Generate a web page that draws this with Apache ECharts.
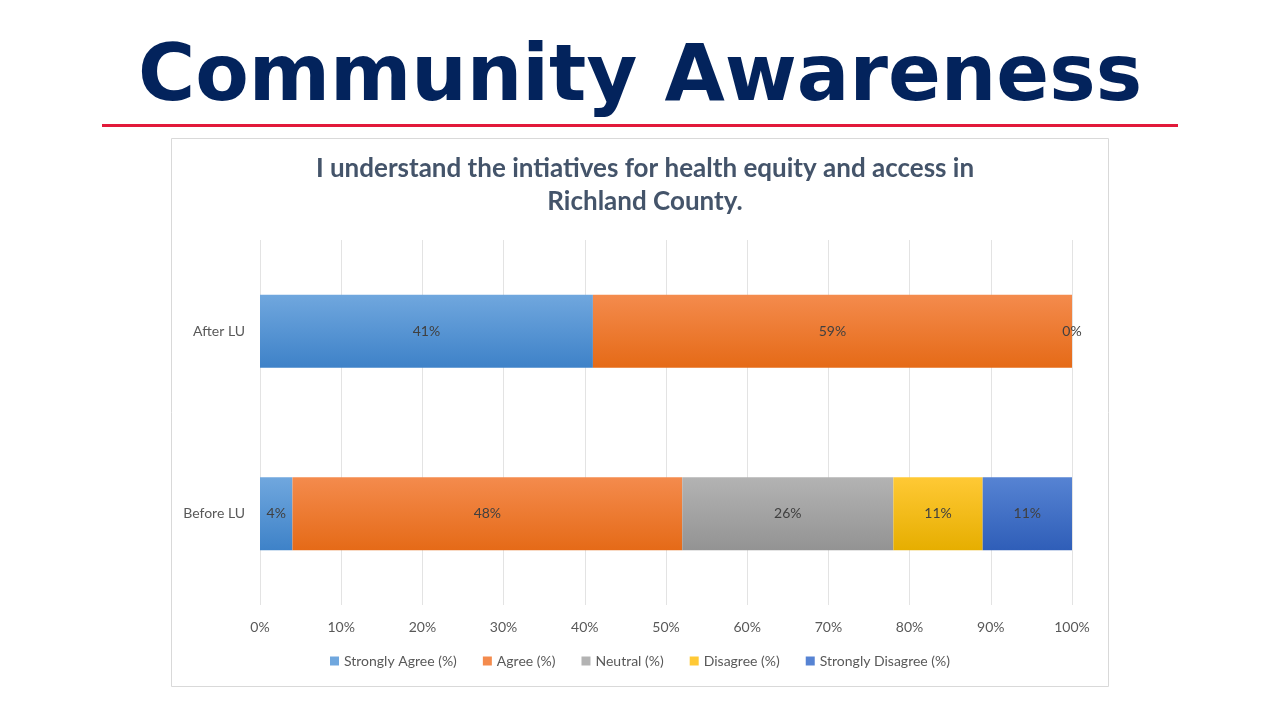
<!DOCTYPE html>
<html>
<head>
<meta charset="utf-8">
<title>Community Awareness</title>
<script src="https://cdn.jsdelivr.net/npm/echarts@6/dist/echarts.min.js"></script>
<style>
  html, body { margin: 0; padding: 0; background: #ffffff; }
  #chart { width: 1280px; height: 720px; }
</style>
</head>
<body>
<div id="chart"></div>
<script>
// 数据
var categories = ['Before LU', 'After LU'];
var seriesNames = ['Strongly Agree (%)', 'Agree (%)', 'Neutral (%)', 'Disagree (%)', 'Strongly Disagree (%)'];
var stronglyAgree = [4, 41];
var agree = [48, 59];
var neutral = [26, 0];
var disagree = [11, null];
var stronglyDisagree = [11, null];
var xTicks = [0, 10, 20, 30, 40, 50, 60, 70, 80, 90, 100];

// 颜色（上浅下深的渐变）
var colors = [
    ['#70a7de', '#3e82c8'],
    ['#f48b4d', '#e56a17'],
    ['#b3b3b3', '#939393'],
    ['#ffc935', '#e6ae00'],
    ['#5683d3', '#2f5eb8']
];

function grad(c) {
    return new echarts.graphic.LinearGradient(0, 0, 0, 1, [
        { offset: 0, color: c[0] },
        { offset: 1, color: c[1] }
    ]);
}

var values = [stronglyAgree, agree, neutral, disagree, stronglyDisagree];

var series = seriesNames.map(function (name, i) {
    return {
        name: name,
        type: 'bar',
        stack: 'total',
        barWidth: '40%',
        data: values[i],
        itemStyle: { color: grad(colors[i]) },
        label: {
            show: true,
            position: 'inside',
            color: '#404040',
            fontFamily: 'Lato',
            fontSize: 14,
            formatter: function (p) {
                return p.value == null ? '' : p.value + '%';
            }
        },
        emphasis: { disabled: true }
    };
});

var chart = echarts.init(document.getElementById('chart'));
var option = {
    backgroundColor: '#ffffff',
    animation: false,
    title: [
        {
            text: 'Community Awareness',
            left: 'center',
            top: 36,
            textStyle: { fontFamily: 'DejaVu Sans', fontWeight: 'bold', fontSize: 78, color: '#03235c' }
        },
        {
            text: 'I understand the intiatives for health equity and access in\nRichland County.',
            left: 640,
            textAlign: 'center',
            top: 147,
            textStyle: { fontFamily: 'Lato', fontWeight: 'bold', fontSize: 26, lineHeight: 33, color: '#44546a' }
        }
    ],
    graphic: [
        { type: 'rect', shape: { x: 102, y: 124, width: 1076, height: 3 }, style: { fill: '#e2193a' }, silent: true },
        { type: 'rect', shape: { x: 171.5, y: 138.5, width: 937, height: 548 }, style: { fill: 'none', stroke: '#d9d9d9', lineWidth: 1 }, silent: true, z: -1 }
    ],
    legend: {
        bottom: 47,
        left: 'center',
        itemWidth: 9,
        itemHeight: 9,
        itemGap: 26,
        itemTextGap: 4,
        icon: 'rect',
        data: seriesNames.map(function (n, i) { return { name: n, itemStyle: { color: colors[i][0] } }; }),
        textStyle: { fontFamily: 'Lato', fontSize: 14, color: '#595959' }
    },
    grid: { left: 260, right: 208, top: 240, bottom: 115, containLabel: false },
    xAxis: {
        type: 'value',
        min: 0,
        max: 100,
        interval: 10,
        axisLine: { show: false },
        axisTick: { show: false },
        splitLine: { lineStyle: { color: '#e3e3e3' } },
        axisLabel: {
            margin: 15,
            color: '#595959',
            fontFamily: 'Lato',
            fontSize: 14,
            formatter: function (v) { return xTicks.indexOf(v) >= 0 ? v + '%' : ''; }
        }
    },
    yAxis: {
        type: 'category',
        data: categories,
        axisLine: { show: false },
        axisTick: { show: false },
        axisLabel: { margin: 15, color: '#595959', fontFamily: 'Lato', fontSize: 14 }
    },
    series: series
};
chart.setOption(option);
</script>
</body>
</html>
